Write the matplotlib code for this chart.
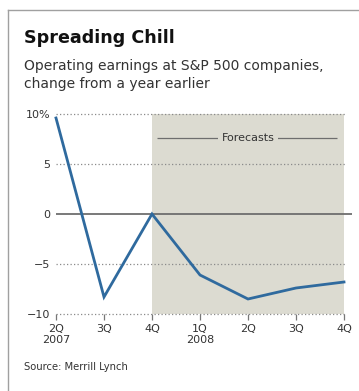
import numpy as np
import matplotlib.pyplot as plt
from matplotlib.lines import Line2D

plt.rcParams['font.family'] = ['DejaVu Sans']

# data
quarters = ['2Q\n2007', '3Q', '4Q', '1Q\n2008', '2Q', '3Q', '4Q']
earnings = [9.6, -8.3, 0.0, -6.1, -8.5, -7.4, -6.8]
forecast_start = 2  # index of 4Q 2007, first forecast quarter
y_ticks = [10, 5, 0, -5, -10]
y_labels = ['10%', '5', '0', '\u22125', '\u221210']

W, H = 359, 391
fig = plt.figure(figsize=(W / 100, H / 100), dpi=100)
fig.patch.set_facecolor('white')

# axes placed by pixel: index 0 at x=56, 48px per quarter; -10 at y=314, 10px per unit
x0, xpx = 56, 48
left_idx, right_idx = -0.083, 6.17
ax_left = x0 + left_idx * xpx
ax_w = (right_idx - left_idx) * xpx
ymin, ymax = -10, 10.6
ax_bot = 314
ax_h = (ymax - ymin) * 10
ax = fig.add_axes([ax_left / W, (H - ax_bot) / H, ax_w / W, ax_h / H])
ax.set_xlim(left_idx, right_idx)
ax.set_ylim(ymin, ymax)

x = np.arange(len(quarters))
last = len(quarters) - 1

# forecast shading
ax.fill_between([x[forecast_start], x[last]], -10, 10, color='#dcdbd1', lw=0, zorder=0)

# gridlines
for v in y_ticks:
    if v == 0:
        ax.hlines(v, x[0], right_idx, color='#6e6e6e', lw=1.3, zorder=2)
    else:
        ax.hlines(v, x[0], x[last] + 0.05, color='#8a8a8a', lw=0.9,
                  linestyles=(0, (1, 1.8)), zorder=1, clip_on=False)

ax.plot(x, earnings, color='#2f6a9e', lw=2.0, zorder=3, solid_joinstyle='miter')

# forecasts label
ax.hlines(7.6, x[forecast_start] + 0.1, x[last] - 0.15, color='#6e6e6e', lw=0.9, zorder=2)
ax.text(4.0, 7.6, 'Forecasts', ha='center', va='center', fontsize=8, color='#333333',
        zorder=3, bbox=dict(facecolor='#dcdbd1', edgecolor='none', pad=2.5))

for s in ax.spines.values():
    s.set_visible(False)
ax.set_xticks(x)
ax.set_xticklabels(quarters, fontsize=8, color='#333333', linespacing=1.15)
ax.set_yticks(y_ticks)
ax.set_yticklabels(y_labels, fontsize=8, color='#333333')
ax.tick_params(axis='y', length=0, pad=1)
ax.tick_params(axis='x', length=4, width=0.9, color='#777777', direction='out', pad=3)
ax.patch.set_alpha(0)

# frame lines and text
fig.add_artist(Line2D([8 / W, 1], [1 - 10 / H, 1 - 10 / H], color='#a0a0a0', lw=1))
fig.add_artist(Line2D([8 / W, 8 / W], [0, 1 - 10 / H], color='#a0a0a0', lw=1))

fig.text(24 / W, 1 - 38 / H, 'Spreading Chill', fontsize=12.6, fontweight='bold',
         color='#111111', va='center', ha='left')
fig.text(24 / W, 1 - 66 / H, 'Operating earnings at S&P 500 companies,', fontsize=10,
         color='#333333', va='center', ha='left')
fig.text(24 / W, 1 - 84 / H, 'change from a year earlier', fontsize=10,
         color='#333333', va='center', ha='left')
fig.text(24 / W, 1 - 367 / H, 'Source: Merrill Lynch', fontsize=7.2,
         color='#333333', va='center', ha='left')

fig.savefig('out.png', dpi=100)
